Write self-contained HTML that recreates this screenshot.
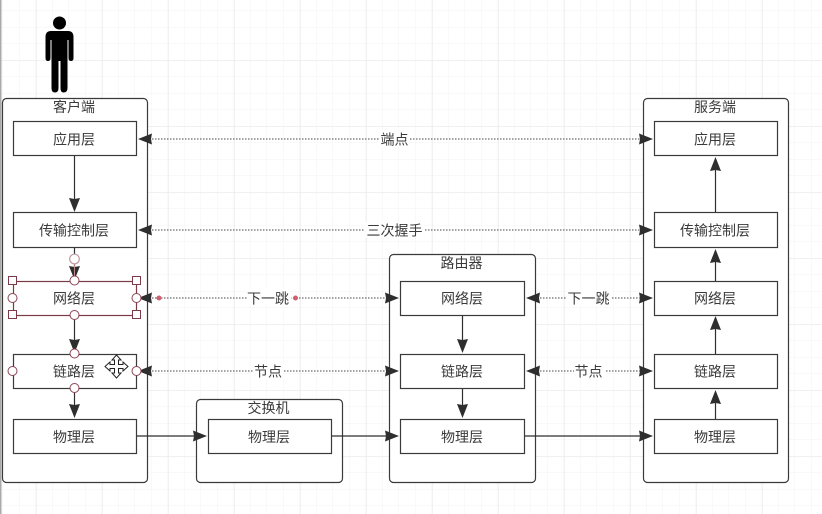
<!DOCTYPE html>
<html><head><meta charset="utf-8"><style>
html,body{margin:0;padding:0;background:#fff;width:822px;height:514px;overflow:hidden}
svg{display:block;filter:blur(0.35px)}
text{font-family:"Liberation Sans","Noto Sans CJK SC",sans-serif;font-size:14px;fill:#3a3a3a;text-anchor:middle}
</style></head><body>
<svg width="822" height="514" viewBox="0 0 822 514" xmlns="http://www.w3.org/2000/svg">
<defs>
<pattern id="gm" width="16.5" height="16.5" patternUnits="userSpaceOnUse" x="2.5" y="10.5"><path d="M16.5 0H0V16.5" fill="none" stroke="#f3f3f3" stroke-width="1"/></pattern>
<pattern id="gM" width="66" height="66" patternUnits="userSpaceOnUse" x="36" y="60"><path d="M66 0H0V66" fill="none" stroke="#e8e8e8" stroke-width="1.2"/></pattern>
<g id="h"><rect x="-4" y="-4" width="8" height="8" fill="#fff" stroke="#7a3a48" stroke-width="1"/></g>
<g id="c"><circle r="4.5" fill="#fff" stroke="#8a4455" stroke-width="1"/></g>
<path id="a" d="M0 0L-14 -5.500L-13 0L-14 5.500Z" fill="#2e2e2e"/>
</defs>
<rect width="822" height="514" fill="#fff"/>
<rect width="822" height="514" fill="url(#gm)"/>
<rect width="822" height="514" fill="url(#gM)"/>
<rect x="0" y="0" width="1.5" height="514" fill="#aaa"/>
<!-- person -->
<circle cx="59.500" cy="23" r="6.500" fill="#000"/>
<path d="M51 31H68Q73.500 31 73.500 37V58Q73.500 61 71 61Q68.500 61 68.500 58V40H67.500V88Q67.500 92.500 63.500 92.500Q60.500 92.500 60.500 88V61H58.500V88Q58.500 92.500 55 92.500Q51.500 92.500 51.500 88V40H50.500V58Q50.500 61 48 61Q45.500 61 45.500 58V37Q45.500 31 51 31Z" fill="#000"/>

<g fill="#fff" stroke="#3a3a3a" stroke-width="1.200">
<rect x="2.500" y="98.500" width="145" height="384" rx="4"/>
<rect x="643.500" y="98.500" width="145" height="384" rx="4"/>
<rect x="389.500" y="254.500" width="146" height="228" rx="4"/>
<rect x="196.500" y="399.500" width="146" height="83" rx="4"/>
<rect x="13.500" y="121.500" width="123" height="34"/>
<rect x="13.500" y="212.500" width="123" height="35"/>
<rect x="13.500" y="354.500" width="123" height="34"/>
<rect x="13.500" y="419.500" width="123" height="34"/>
<rect x="208.500" y="419.500" width="123" height="34"/>
<rect x="400.500" y="281.500" width="124" height="34"/>
<rect x="400.500" y="354.500" width="124" height="34"/>
<rect x="400.500" y="419.500" width="124" height="34"/>
<rect x="654.500" y="121.500" width="123" height="34"/>
<rect x="654.500" y="212.500" width="123" height="35"/>
<rect x="654.500" y="281.500" width="123" height="34"/>
<rect x="654.500" y="354.500" width="123" height="34"/>
<rect x="654.500" y="419.500" width="123" height="34"/>
</g>
<rect x="13.500" y="281.500" width="123" height="34" fill="#fff" stroke="#7a3a48" stroke-width="1.200"/>

<!-- dotted lines -->
<g stroke="#444" stroke-width="1" stroke-dasharray="1.500 1.500" fill="none">
<path d="M152 139H640"/><path d="M152 230H640"/>
<path d="M152 298H386"/><path d="M152 371H386"/>
<path d="M540 298H640"/><path d="M540 371H640"/>
</g>
<!-- solid lines -->
<g stroke="#2e2e2e" stroke-width="1.200" fill="none">
<path d="M74.500 156V200"/><path d="M74.500 248V268"/><path d="M74.500 316V340"/><path d="M74.500 389V405"/>
<path d="M462.500 316V342"/><path d="M462.500 389V405"/>
<path d="M715.500 212V168"/><path d="M715.500 281V260"/><path d="M715.500 354V328"/><path d="M715.500 419V403"/>
<path d="M137 436H194"/><path d="M332 436H388"/><path d="M525 436H642"/>
</g>
<!-- arrowheads -->
<use href="#a" transform="translate(74.500 212) rotate(90)"/>
<use href="#a" transform="translate(74.500 280) rotate(90)"/>
<use href="#a" transform="translate(74.500 353) rotate(90)"/>
<use href="#a" transform="translate(74.500 418) rotate(90)"/>
<use href="#a" transform="translate(462.500 353) rotate(90)"/>
<use href="#a" transform="translate(462.500 418) rotate(90)"/>
<use href="#a" transform="translate(715.500 157) rotate(-90)"/>
<use href="#a" transform="translate(715.500 249) rotate(-90)"/>
<use href="#a" transform="translate(715.500 316) rotate(-90)"/>
<use href="#a" transform="translate(715.500 390) rotate(-90)"/>
<use href="#a" transform="translate(207 436)"/>
<use href="#a" transform="translate(399 436)"/>
<use href="#a" transform="translate(653 436)"/>
<use href="#a" transform="translate(653 139)"/>
<use href="#a" transform="translate(653 230)"/>
<use href="#a" transform="translate(653 298)"/>
<use href="#a" transform="translate(653 371)"/>
<use href="#a" transform="translate(399 298)"/>
<use href="#a" transform="translate(399 371)"/>
<use href="#a" transform="translate(138 139) rotate(180)"/>
<use href="#a" transform="translate(138 230) rotate(180)"/>
<use href="#a" transform="translate(138 298) rotate(180)"/>
<use href="#a" transform="translate(138 371) rotate(180)"/>
<use href="#a" transform="translate(526 298) rotate(180)"/>
<use href="#a" transform="translate(526 371) rotate(180)"/>

<!-- edge label backgrounds -->
<g fill="#fff">
<rect x="379" y="131" width="31" height="16"/>
<rect x="365" y="222" width="59" height="16"/>
<rect x="247" y="290" width="44" height="16"/>
<rect x="253" y="363" width="31" height="16"/>
<rect x="567" y="290" width="44" height="16"/>
<rect x="574" y="363" width="31" height="16"/>
</g>

<!-- labels -->
<text x="74" y="112">客户端</text>
<text x="715" y="112">服务端</text>
<text x="461.500" y="268">路由器</text>
<text x="268.500" y="413">交换机</text>
<text x="74" y="144.500">应用层</text>
<text x="74" y="235.500">传输控制层</text>
<text x="74" y="303.500">网络层</text>
<text x="74" y="376.500">链路层</text>
<text x="74" y="442">物理层</text>
<text x="269" y="442">物理层</text>
<text x="462" y="303.500">网络层</text>
<text x="462" y="376.500">链路层</text>
<text x="462" y="442">物理层</text>
<text x="715" y="144.500">应用层</text>
<text x="715" y="235.500">传输控制层</text>
<text x="715" y="303.500">网络层</text>
<text x="715" y="376.500">链路层</text>
<text x="715" y="442">物理层</text>
<text x="394.500" y="144.500">端点</text>
<text x="394.500" y="235.500">三次握手</text>
<text x="268" y="303.500">下一跳</text>
<text x="268" y="376.500">节点</text>
<text x="588.500" y="303.500">下一跳</text>
<text x="588.500" y="376.500">节点</text>

<!-- selection handles -->
<path d="M74.500 263V276" stroke="#b88" stroke-width="1"/>
<circle cx="74.500" cy="259" r="4.800" fill="#fff" stroke="#c29aa4" stroke-width="1.200"/>
<use href="#h" x="12.500" y="280.500"/><use href="#h" x="136.500" y="280.500"/>
<use href="#h" x="12.500" y="314.500"/><use href="#h" x="136.500" y="314.500"/>
<use href="#c" x="74.500" y="280.500"/><use href="#c" x="74.500" y="315"/>
<use href="#c" x="12.500" y="298"/><use href="#c" x="136.500" y="298"/>
<use href="#c" x="74.500" y="353.500"/><use href="#c" x="74.500" y="388"/>
<use href="#c" x="12.500" y="371"/><use href="#c" x="136.500" y="371"/>
<circle cx="159" cy="298" r="2.500" fill="#d0606f"/>
<circle cx="295.500" cy="298" r="2.500" fill="#d0606f"/>
<!-- move cursor -->
<path d="M116.500 355L121 360H118.500V364.500H123V362L128 366.500L123 371V368.500H118.500V373H121L116.500 378L112 373H114.500V368.500H110V371L105 366.500L110 362V364.500H114.500V360H112Z" fill="#fff" stroke="#222" stroke-width="1"/>
</svg>
</body></html>
